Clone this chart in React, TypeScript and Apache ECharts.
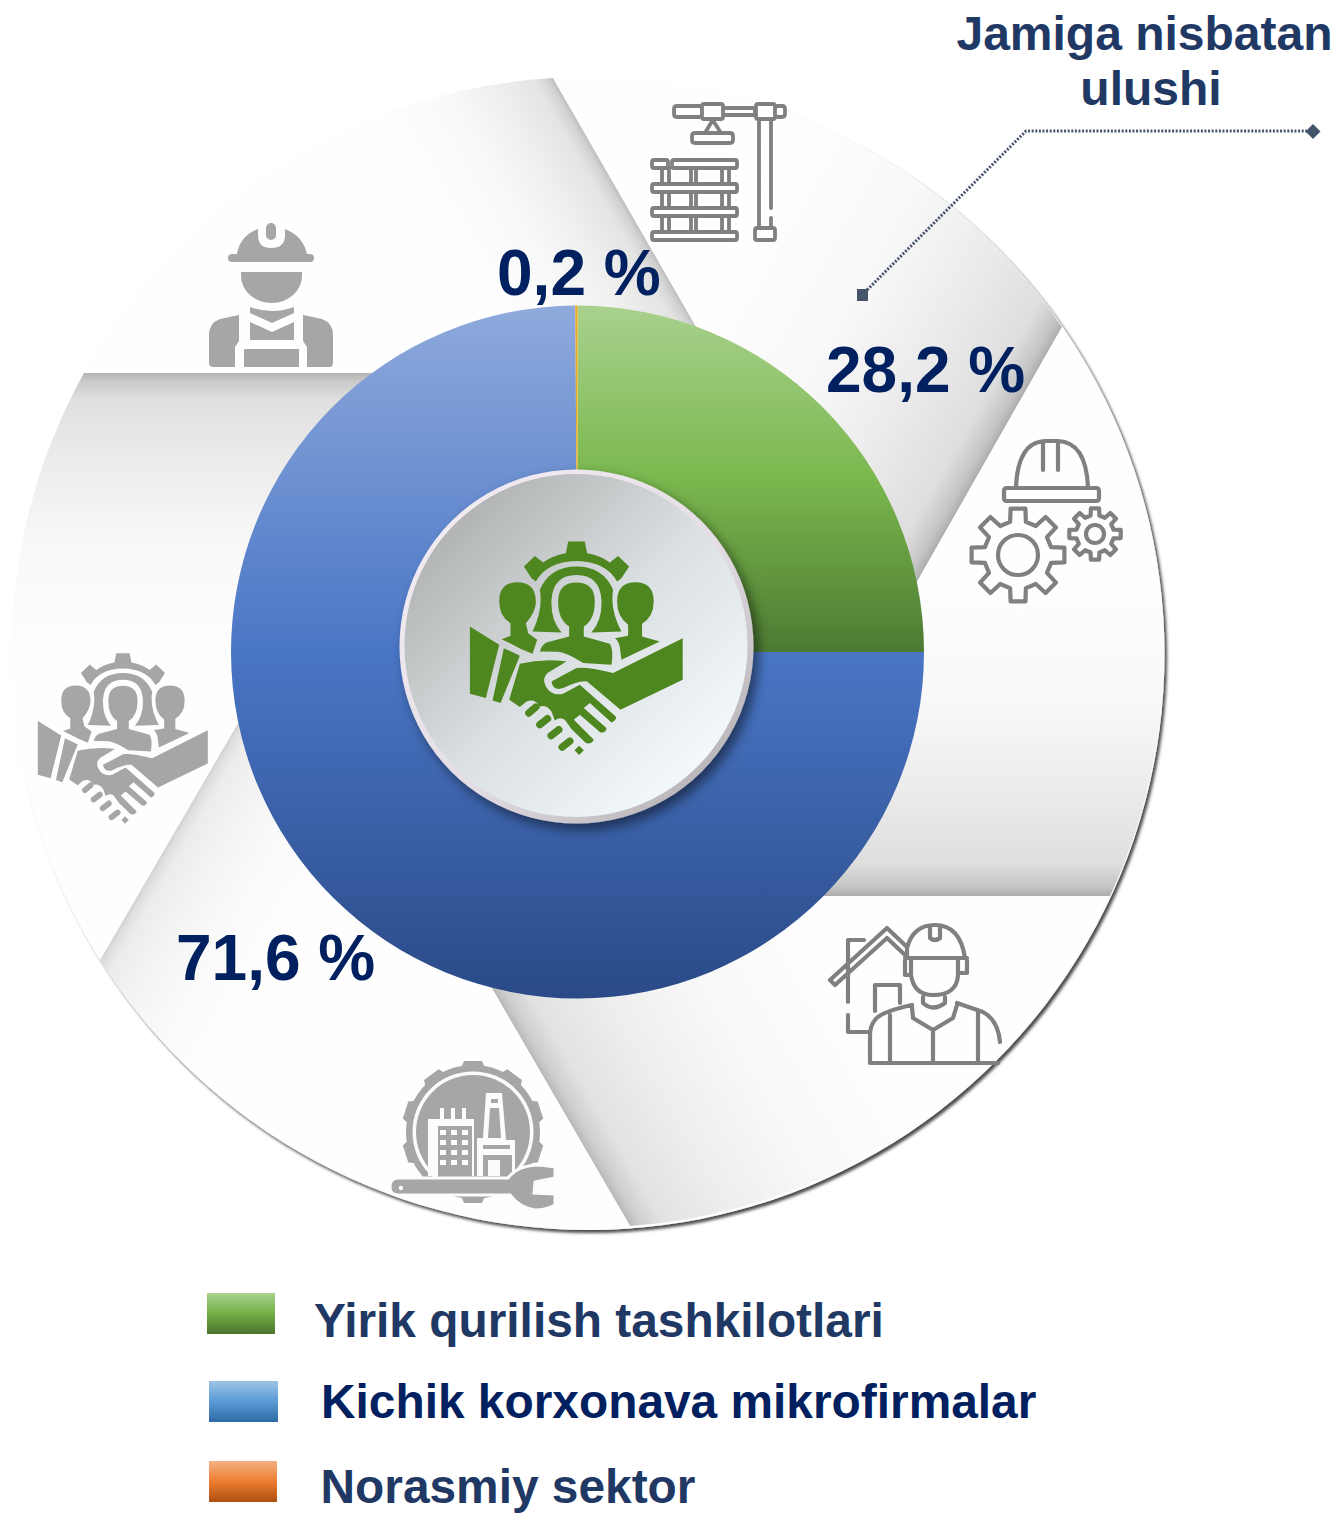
import React, { useEffect, useRef } from "react";
import * as echarts from "echarts";

// Share labels as printed in the reference
const sliceNames = ["Yirik qurilish tashkilotlari", "Kichik korxonava mikrofirmalar", "Norasmiy sektor"];
const shareLabels = ["28,2 %", "71,6 %", "0,2 %"];
// Slice sizes as they are drawn in the reference (green fills exactly a quarter)
const drawnSlices = [25, 74.9, 0.1];
const calloutLines = ["Jamiga nisbatan", "ulushi"];

const W = 1336;
const H = 1513;

function reg(name: string, d: string) {
  echarts.graphic.registerShape(name, echarts.graphic.extendPath(d, {}));
}
function capsule(x1: number, y1: number, x2: number, y2: number, r: number) {
  const dx = x2 - x1, dy = y2 - y1, l = Math.hypot(dx, dy) || 1;
  const nx = (-dy / l) * r, ny = (dx / l) * r;
  return `M${x1 + nx} ${y1 + ny} L${x2 + nx} ${y2 + ny} A${r} ${r} 0 0 0 ${x2 - nx} ${y2 - ny} L${x1 - nx} ${y1 - ny} A${r} ${r} 0 0 0 ${x1 + nx} ${y1 + ny} Z `;
}
function rrect(x: number, y: number, w: number, h: number, r: number) {
  return `M${x + r} ${y} L${x + w - r} ${y} Q${x + w} ${y} ${x + w} ${y + r} L${x + w} ${y + h - r} Q${x + w} ${y + h} ${x + w - r} ${y + h} L${x + r} ${y + h} Q${x} ${y + h} ${x} ${y + h - r} L${x} ${y + r} Q${x} ${y} ${x + r} ${y} Z `;
}
function gear(cx: number, cy: number, ro: number, ri: number, n: number, rot = 0) {
  let d = "";
  const step = (Math.PI * 2) / n;
  for (let k = 0; k < n; k++) {
    const a = rot + k * step - Math.PI / 2;
    const pts = [
      [ri, a - step * 0.3],
      [ro, a - step * 0.2],
      [ro, a + step * 0.2],
      [ri, a + step * 0.3],
    ];
    pts.forEach(([r, t], i) => {
      d += `${k === 0 && i === 0 ? "M" : "L"}${(cx + r * Math.cos(t)).toFixed(1)} ${(cy + r * Math.sin(t)).toFixed(1)} `;
    });
  }
  return d + "Z ";
}
function circ(cx: number, cy: number, r: number) {
  return `M${cx - r} ${cy} A${r} ${r} 0 1 1 ${cx + r} ${cy} A${r} ${r} 0 1 1 ${cx - r} ${cy} Z `;
}

// ---- background pinwheel blades ----
const OR = 576;
const blades = [
  { n: "bladeTL", d: `M84 373 A${OR} ${OR} 0 0 1 553 78 L723 373 Z`, g: [553, 78, 723, 373], len: 170, dark: 0.74 },
  { n: "bladeTR", d: `M553 78 A${OR} ${OR} 0 0 1 1062 327 L880 647 Z`, g: [1062, 327, 880, 647], len: 320, dark: 0.68 },
  { n: "bladeR", d: `M1062 327 A${OR} ${OR} 0 0 1 1110 896 L738 896 Z`, g: [1110, 896, 738, 896], len: 320, dark: 0.68 },
  { n: "bladeB", d: `M1110 896 A${OR} ${OR} 0 0 1 630 1226 L438 896 Z`, g: [630, 1226, 438, 896], len: 300, dark: 0.72 },
  { n: "bladeBL", d: `M630 1226 A${OR} ${OR} 0 0 1 100 960 L288 637 Z`, g: [100, 960, 288, 637], len: 150, dark: 0.82 },
  { n: "bladeL", d: `M100 960 A${OR} ${OR} 0 0 1 84 373 L442 373 Z`, g: [84, 373, 442, 373], len: 280, dark: 0.7 },
];
blades.forEach((b) => reg(b.n, b.d));

// ---- icons ----
const handshakeD =
  // gear arc
  "M565 275 L615 275 L622 310 Q665 318 690 338 L715 318 L748 350 L725 385 L712 395 Q680 335 590 333 Q500 335 468 395 L455 385 L432 350 L465 318 L490 338 Q515 318 558 310 Z " +
  // hood
  "M480 420 Q510 350 590 350 Q670 350 700 420 Q690 480 725 545 L635 548 Q668 510 665 450 Q660 375 590 375 Q520 375 515 450 Q512 510 545 548 L458 545 Q490 480 480 420 Z " +
  // centre person
  "M590 398 Q645 398 645 455 Q645 510 612 530 L612 560 L690 582 Q702 600 695 645 L610 640 Q560 608 535 606 L480 605 Q485 585 500 578 L568 560 L568 530 Q535 510 535 455 Q535 398 590 398 Z " +
  // left person
  "M412 397 Q470 397 468 460 Q465 490 438 520 L445 550 L472 570 L458 612 L425 598 L365 568 L392 558 L392 520 Q358 500 358 455 Q358 397 412 397 Z " +
  // right person
  "M767 397 Q822 397 822 455 Q822 500 787 522 L787 560 L840 575 L725 630 L720 590 Q715 570 705 565 L745 558 L745 525 Q712 500 712 455 Q712 397 767 397 Z " +
  // left cuff and strip
  "M270 530 L358 585 L318 745 L270 732 Z M372 595 L420 618 L362 760 L338 752 Z " +
  // left hand
  "M420 642 Q490 625 560 635 L505 668 Q485 685 498 710 Q515 740 550 732 L600 705 L708 800 Q712 812 695 818 L630 760 L612 775 L680 835 Q680 850 662 848 L600 795 L582 810 L642 870 Q635 885 618 880 L575 838 L555 810 Q540 800 525 812 L515 785 Q500 765 480 770 Q465 745 440 755 L420 772 L388 750 Z " +
  // right arm
  "M909 565 L909 690 L722 780 L622 695 Q600 690 550 715 Q520 725 515 695 L590 655 Q620 650 700 670 Z " +
  // fingers
  capsule(447, 790, 468, 772, 11) + capsule(480, 825, 503, 807, 11) + capsule(514, 858, 537, 840, 11) + capsule(547, 892, 570, 874, 11) + "M598 888 L612 902 L598 916 L584 902 Z";
reg("handshake", handshakeD);

reg(
  "crane",
  rrect(674, 106, 28, 11, 3) + rrect(723, 108, 32, 7, 1) + rrect(775, 106, 10, 11, 3) +
    rrect(702, 104, 21, 15, 2) + rrect(756, 104, 19, 15, 2) +
    "M759 119 L759 227 M771 119 L771 208 M771 218 L771 227 " +
    "M712.7 120 L705 133 L721 133 Z " + rrect(692, 133, 41, 10, 3) +
    rrect(652, 160, 16, 8, 2) + rrect(672, 160, 65, 8, 2) + rrect(652, 184, 85, 8, 2) + rrect(652, 208, 85, 8, 2) + rrect(652, 232, 85, 8, 2) + rrect(755, 228, 20, 12, 2) +
    "M662 168 L662 184 M669 168 L669 184 M691 168 L691 184 M696 168 L696 184 M722 168 L722 184 M729 168 L729 184 " +
    "M662 192 L662 208 M669 192 L669 208 M691 192 L691 208 M696 192 L696 208 M722 192 L722 208 M729 192 L729 208 " +
    "M662 216 L662 232 M669 216 L669 232 M691 216 L691 232 M696 216 L696 232 M722 216 L722 232 M729 216 L729 232 "
);
reg(
  "helmetGears",
  "M1016 487 Q1018 442 1045 441 L1058 441 Q1086 442 1088 487 M1043 443 L1043 470 M1058 443 L1058 470 " +
    rrect(1004, 488, 95, 13, 3) +
    gear(1018, 555, 47, 34, 8) + circ(1018, 555, 20) +
    gear(1095, 534, 26, 19, 8) + circ(1095, 534, 9)
);
reg(
  "houseWorker",
  // helmet, brim, slot, ear guards, face
  "M907 958 L907 948 Q913 925 935 925 Q960 925 965 958 M905 958 L967 958 M930 927 L930 938 Q935 942 940 938 L940 927 " +
    "M905 960 L905 975 L911 975 M967 960 L967 973 L960 973 " +
    "M911 958 L911 975 Q914 995 933 995 Q957 995 958 975 L958 958 " +
    // roof and walls
    "M907 947 L887 928 L830 980 L835 985 L887 938 L905 955 " +
    "M848 963 L848 940 L864 940 M848 966 L848 1002 M848 1015 L848 1032 L870 1032 " +
    "M875 1011 L875 985 L900 985 L900 1003 " +
    // neck and collar
    "M923 997 L923 1003 Q933 1012 945 1003 L945 997 " +
    "M912 1007 L913 1018 L933 1030 L953 1018 L957 1005 " +
    // body
    "M912 1005 Q880 1012 875 1020 Q870 1026 870 1035 L870 1063 L998 1063 M957 1003 L983 1012 Q998 1020 1000 1042 " +
    "M890 1015 L890 1063 M933 1030 L933 1063 M978 1010 L978 1063"
);
reg(
  "workerSolid",
  "M258 229 L258 235 Q258 248 271 248 Q285 248 285 235 L285 229 Q303 236 307 254 L237 254 Q240 236 258 229 Z " +
    rrect(228, 254, 86, 8, 4) + capsule(271, 228, 271, 235, 5) +
    "M241 272 L302 272 L302 276 A30.5 27 0 0 1 241 276 Z " +
    "M250 307 Q272 315 294 307 L294 313 L272 323 L250 313 Z " +
    "M250 322 L272 332 L294 322 L294 340 L250 340 Z " +
    "M244 349 L299 349 L299 367 L244 367 Z " +
    "M239 315 L220 319 Q209 323 209 335 L209 363 Q209 367 213 367 L235 367 L235 347 L239 341 Z " +
    "M303 315 L322 319 Q333 323 333 335 L333 363 Q333 367 329 367 L307 367 L307 347 L303 341 Z"
);
reg("factoryGear", gear(473, 1132, 71.5, 65, 10) + circ(473, 1132, 67));
reg("factoryRingWhite", circ(473, 1132, 60.5));
reg("factoryDisc", circ(473, 1132, 57));
reg(
  "factoryWhite",
  "M428 1119 L474 1119 L474 1176 L428 1176 Z M440 1108 L444 1108 L444 1120 L440 1120 Z M451 1108 L455 1108 L455 1120 L451 1120 Z M462 1108 L466 1108 L466 1120 L462 1120 Z " +
    "M486 1093 L502 1093 L506 1140 L515 1140 L515 1176 L477 1176 L477 1138 L483 1138 Z"
);
reg(
  "factoryGray",
  "M438 1126 L472 1126 L472 1176 L438 1176 Z " +
    "M491 1099 L498 1099 L498 1103 L491 1103 Z M490 1108 L499 1108 L501 1138 L488 1138 Z " +
    "M483 1145 L510 1145 L510 1149 L483 1149 Z M483 1155 L512 1155 L512 1176 L483 1176 Z"
);
let windows = "";
for (let r = 0; r < 4; r++) for (let c = 0; c < 3; c++) windows += `M${440 + c * 11} ${1130 + r * 10} l6 0 l0 5 l-6 0 Z `;
reg("factoryWin", windows + "M488 1160 L500 1160 L500 1176 L488 1176 Z");
reg(
  "wrench",
  "M398 1178 L508 1178 Q518 1165 540 1165 L555 1167 L555 1178 L535 1182 L534 1193 L555 1194 L555 1205 Q545 1210 535 1210 Q520 1208 510 1195 L398 1195 Q390 1195 390 1187 Q390 1178 398 1178 Z"
);

const blue = "#002060";
const navy = "#1F3864";

function text(t: string, x: number, baseline: number, size: number, fill: string, align = "left") {
  return {
    type: "text",
    z: 6,
    silent: true,
    x,
    y: baseline - size * 0.3465,
    style: {
      text: t,
      fill,
      font: `bold ${size}px "Liberation Sans", Arial, sans-serif`,
      align,
      verticalAlign: "middle",
    },
  };
}

function vGrad(y1: number, y2: number, stops: [number, string][]) {
  return new echarts.graphic.LinearGradient(
    0, y1, 0, y2,
    stops.map(([offset, color]) => ({ offset, color })),
    true
  );
}

function buildGraphic() {
  const els: any[] = [];
  // wheel base with its soft outer shadow
  els.push({
    type: "circle",
    z: 1,
    silent: true,
    shape: { cx: 588.5, cy: 654, r: OR },
    style: { fill: "#fdfdfd", shadowBlur: 3, shadowOffsetX: 2.5, shadowOffsetY: 3, shadowColor: "rgba(0,0,0,0.7)" },
  });
  // pinwheel blades, each shaded toward its clockwise edge
  blades.forEach((b) => {
    const [x1, y1, x2, y2] = b.g;
    const dx = x2 - x1, dy = y2 - y1, l = Math.hypot(dx, dy);
    // normal pointing from the shaded edge into the blade
    const nx = -dy / l, ny = dx / l;
    const v = Math.round(255 * b.dark);
    const mix = (t: number) => {
      const c = Math.round(v + (254 - v) * t);
      return `rgb(${c},${c},${c})`;
    };
    els.push({
      type: b.n,
      z: 1,
      silent: true,
      style: {
        fill: new echarts.graphic.LinearGradient(
          x1, y1, x1 + nx * b.len, y1 + ny * b.len,
          [
            { offset: 0, color: mix(0) },
            { offset: 0.03, color: mix(0.3) },
            { offset: 0.1, color: mix(0.6) },
            { offset: 0.3, color: mix(0.75) },
            { offset: 0.6, color: mix(0.92) },
            { offset: 1, color: mix(1) },
          ],
          true
        ),
      },
    });
  });

  // icons on the wheel
  const iconGray = "#a6a6a6";
  const lineGray = "#808080";
  const round = { lineCap: "round", lineJoin: "round" };
  els.push({ type: "workerSolid", z: 3, silent: true, style: { fill: iconGray } });
  els.push({ type: "crane", z: 3, silent: true, style: { fill: "none", stroke: lineGray, lineWidth: 3.8, ...round } });
  els.push({ type: "helmetGears", z: 3, silent: true, style: { fill: "none", stroke: lineGray, lineWidth: 4.2, ...round } });
  els.push({ type: "houseWorker", z: 3, silent: true, style: { fill: "none", stroke: lineGray, lineWidth: 4.2, ...round } });
  els.push({ type: "factoryGear", z: 3, silent: true, style: { fill: iconGray } });
  els.push({ type: "factoryRingWhite", z: 3, z2: 1, silent: true, style: { fill: "#fcfcfc" } });
  els.push({ type: "factoryDisc", z: 3, z2: 2, silent: true, style: { fill: iconGray } });
  els.push({ type: "factoryWhite", z: 3, z2: 3, silent: true, style: { fill: "#fcfcfc" } });
  els.push({ type: "factoryGray", z: 3, z2: 4, silent: true, style: { fill: iconGray } });
  els.push({ type: "factoryWin", z: 3, z2: 5, silent: true, style: { fill: "#fcfcfc" } });
  els.push({ type: "wrench", z: 3, z2: 6, silent: true, style: { fill: iconGray, stroke: "#fcfcfc", lineWidth: 3 } });
  els.push({ type: "circle", z: 3, z2: 7, silent: true, shape: { cx: 401, cy: 1188, r: 2.2 }, style: { fill: "#fcfcfc" } });
  els.push({ type: "handshake", z: 3, silent: true, x: -34, y: 580, scaleX: 0.266, scaleY: 0.266, style: { fill: iconGray } });

  // hub
  els.push({
    type: "circle",
    z: 4,
    silent: true,
    shape: { cx: 576.5, cy: 646.5, r: 177 },
    style: {
      fill: new echarts.graphic.LinearGradient(
        400, 470, 753, 824,
        [
          { offset: 0, color: "#f6f0f6" },
          { offset: 0.55, color: "#e4dee4" },
          { offset: 1, color: "#a8a6a8" },
        ],
        true
      ),
      shadowBlur: 12,
      shadowOffsetX: 5,
      shadowOffsetY: 6,
      shadowColor: "rgba(0,0,0,0.5)",
    },
  });
  els.push({
    type: "circle",
    z: 4,
    z2: 1,
    silent: true,
    shape: { cx: 576, cy: 645.5, r: 171.5 },
    style: {
      fill: new echarts.graphic.LinearGradient(
        455, 525, 697, 767,
        [
          { offset: 0, color: "#b3b5b5" },
          { offset: 0.5, color: "#dadfe1" },
          { offset: 1, color: "#f2f8fb" },
        ],
        true
      ),
    },
  });
  els.push({ type: "handshake", z: 4, z2: 2, silent: true, x: 380, y: 450, scaleX: 1 / 3, scaleY: 1 / 3, style: { fill: "#4e8720" } });

  // callout
  els.push({
    type: "polyline",
    z: 5,
    silent: true,
    shape: { points: [[862, 295], [1026, 131], [1308, 131]] },
    style: { fill: "none", stroke: "#44546a", lineWidth: 3, lineDash: [2, 1.6] },
  });
  els.push({ type: "rect", z: 5, silent: true, shape: { x: 857, y: 289, width: 11, height: 12 }, style: { fill: "#44546a" } });
  els.push({
    type: "polygon",
    z: 5,
    silent: true,
    shape: { points: [[1313, 124], [1320.5, 131.5], [1313, 139], [1305.5, 131.5]] },
    style: { fill: "#44546a" },
  });

  // callout title
  els.push(text(calloutLines[0], 1144.5, 50, 48, navy, "center"));
  els.push(text(calloutLines[1], 1151, 105, 48, navy, "center"));

  // share labels
  els.push(text(shareLabels[0], 826, 392, 64, blue));
  els.push(text(shareLabels[1], 176, 980, 64, blue));
  els.push(text(shareLabels[2], 497, 295, 64, blue));

  // legend
  const legendRows = [
    { x: 207, y: 1293, w: 68, h: 41, tx: 314, ty: 1337, tc: navy, stops: ["#a9d18e", "#73b045", "#4b7530"] },
    { x: 209, y: 1381, w: 69, h: 41, tx: 321, ty: 1418, tc: blue, stops: ["#9dc3e6", "#5b9bd5", "#2e6aa5"] },
    { x: 209, y: 1461, w: 68, h: 41, tx: 320.5, ty: 1503.5, tc: navy, stops: ["#f4b183", "#ed7d31", "#ae5010"] },
  ];
  legendRows.forEach((r, i) => {
    els.push({
      type: "rect",
      z: 5,
      silent: true,
      shape: { x: r.x, y: r.y, width: r.w, height: r.h },
      style: { fill: vGrad(r.y, r.y + r.h, [[0, r.stops[0]], [0.5, r.stops[1]], [1, r.stops[2]]]) },
    });
    els.push(text(sliceNames[i], r.tx, r.ty, 47.85, r.tc));
  });
  return els;
}

export default function App() {
  const ref = useRef<HTMLDivElement>(null);
  useEffect(() => {
    document.body.style.margin = "0";
    document.body.style.background = "#ffffff";
    const chart = echarts.init(ref.current!, undefined, { renderer: "svg" });
    const colors = [
      vGrad(305, 652, [[0, "#a9d18e"], [0.5, "#7ab84e"], [1, "#4d7a32"]]),
      vGrad(305, 998, [[0, "#8faadc"], [0.5, "#4a76c6"], [1, "#2a4a87"]]),
      "#f0a91e",
    ];
    chart.setOption({
      animation: false,
      backgroundColor: "#ffffff",
      tooltip: { show: false },
      series: [
        {
          type: "pie",
          z: 2,
          silent: true,
          center: [577.5, 652],
          radius: [160, 346.5],
          startAngle: 90,
          clockwise: true,
          label: { show: false },
          labelLine: { show: false },
          itemStyle: { borderWidth: 0 },
          emphasis: { disabled: true },
          data: drawnSlices.map((value, i) => ({
            value,
            name: sliceNames[i],
            itemStyle: { color: colors[i] },
          })),
        },
      ],
      graphic: { elements: buildGraphic() },
    });
    return () => chart.dispose();
  }, []);
  return <div ref={ref} style={{ width: W, height: H }} />;
}
